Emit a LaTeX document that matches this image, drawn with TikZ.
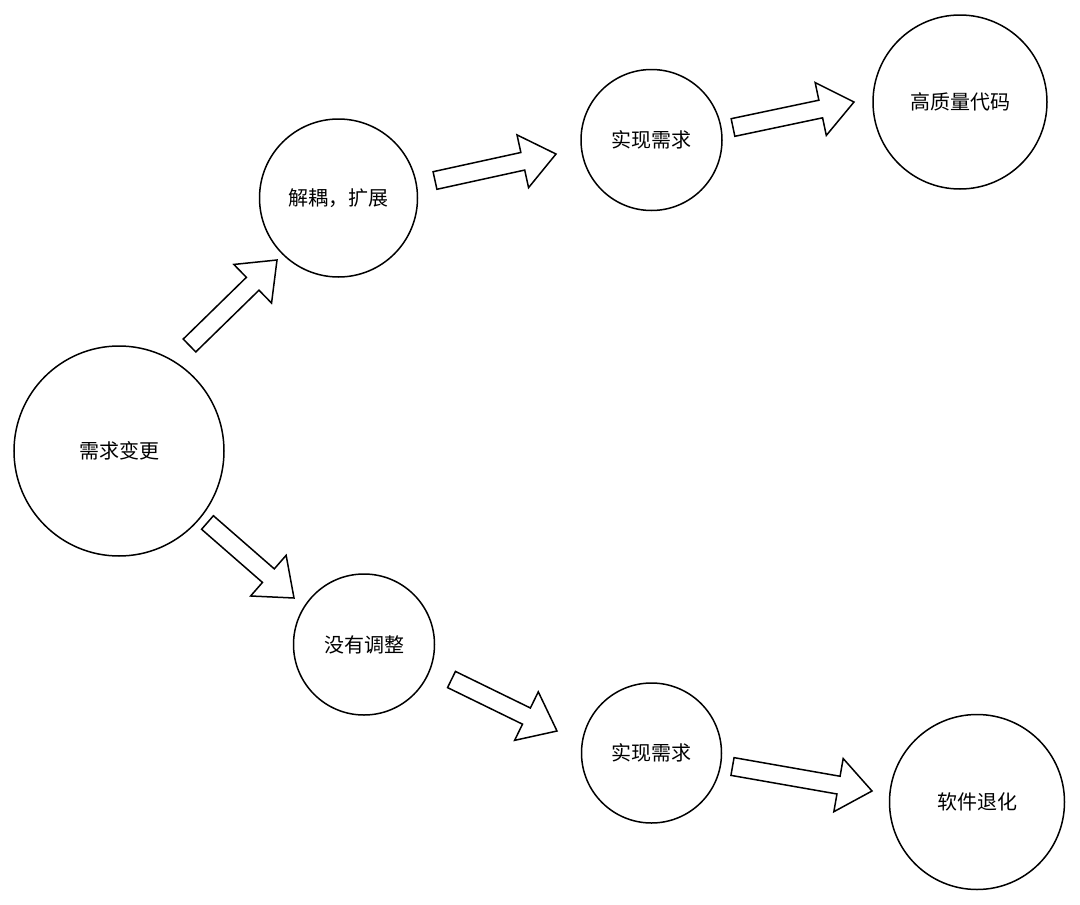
\documentclass[tikz,border=0pt]{standalone}
\usepackage{fontspec}
\setmainfont{Noto Sans CJK SC}
\usetikzlibrary{calc}
\tikzset{
  stage/.style={circle, draw=black, line width=1.5pt, fill=white, inner sep=0pt,
                font=\fontsize{20pt}{24pt}\selectfont},
  barrow/.style={draw=black, fill=white, line width=1.5pt, line join=miter},
}
\newcommand\blockarrow[2]{%
  \draw[barrow]
    ($(#1)!9pt!90:(#2)$) --
    ($($(#2)!34pt!(#1)$)!9pt!90:(#2)$) --
    ($($(#2)!34pt!(#1)$)!27pt!90:(#2)$) --
    (#2) --
    ($($(#2)!34pt!(#1)$)!27pt!-90:(#2)$) --
    ($($(#2)!34pt!(#1)$)!9pt!-90:(#2)$) --
    ($(#1)!9pt!-90:(#2)$) -- cycle;}
\begin{document}
\begin{tikzpicture}[x=1pt,y=-1pt]
\fill[white] (0,0) rectangle (1080,905);
\useasboundingbox (0,0) rectangle (1080,905);

\node[stage, minimum size=210pt] (req) at (119,451) {需求变更};
\node[stage, minimum size=158pt] (dec) at (338.5,198) {解耦，扩展};
\node[stage, minimum size=141pt] (impA) at (651.5,140) {实现需求};
\node[stage, minimum size=174pt] (hq) at (960,102) {高质量代码};
\node[stage, minimum size=141pt] (noadj) at (364,644.5) {没有调整};
\node[stage, minimum size=140pt] (impB) at (651.5,753) {实现需求};
\node[stage, minimum size=175pt] (deg) at (977,802) {软件退化};

\coordinate (a1s) at (189.5,345.5); \coordinate (a1e) at (277,260);
\coordinate (a2s) at (435,180.5);   \coordinate (a2e) at (556,154);
\coordinate (a3s) at (733,127.5);   \coordinate (a3e) at (854,102);
\coordinate (a4s) at (207.5,522.5); \coordinate (a4e) at (294,598);
\coordinate (a5s) at (451.5,679.5); \coordinate (a5e) at (557,731);
\coordinate (a6s) at (732.5,766.5); \coordinate (a6e) at (872,791);

\blockarrow{a1s}{a1e}
\blockarrow{a2s}{a2e}
\blockarrow{a3s}{a3e}
\blockarrow{a4s}{a4e}
\blockarrow{a5s}{a5e}
\blockarrow{a6s}{a6e}
\end{tikzpicture}
\end{document}
